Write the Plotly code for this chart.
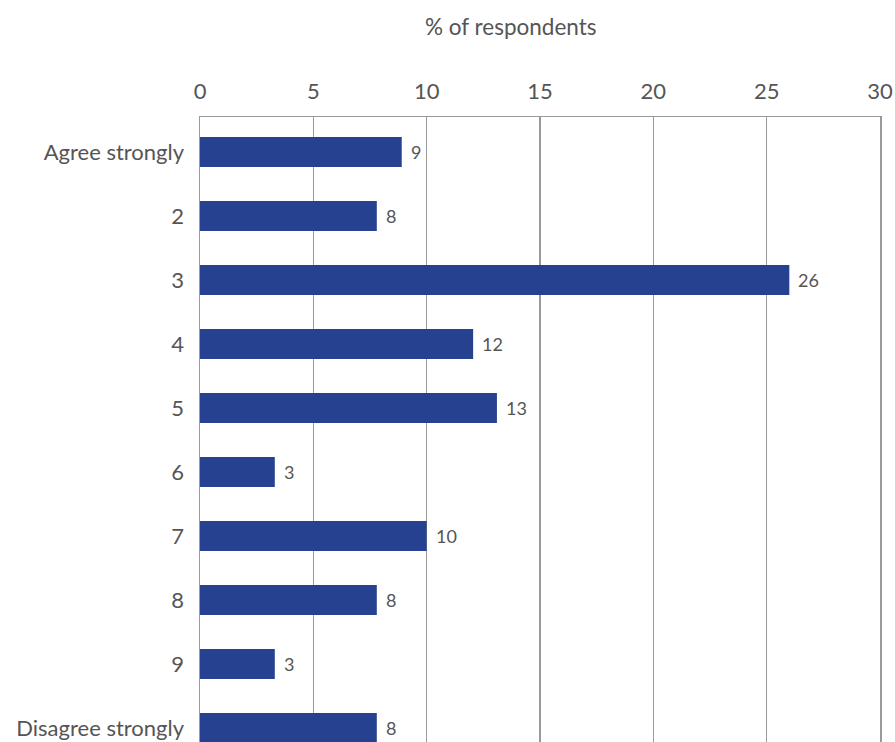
import plotly.graph_objects as go

categories = ["Agree strongly", "2", "3", "4", "5", "6", "7", "8", "9", "Disagree strongly"]
values = [8.9, 7.8, 26.0, 12.05, 13.1, 3.3, 10.0, 7.8, 3.3, 7.8]
labels = ["9", "8", "26", "12", "13", "3", "10", "8", "3", "8"]
x_ticks = [0, 5, 10, 15, 20, 25, 30]

BAR = "#25418f"
TXT = "#555555"
GRID = "#9a9a9a"
FONT = "Lato"

fig = go.Figure()
fig.add_trace(go.Bar(
    y=categories, x=values, orientation="h",
    marker=dict(color=BAR, line=dict(width=0)),
    width=0.47, hoverinfo="skip",
))
for i, (v, t) in enumerate(zip(values, labels)):
    fig.add_annotation(x=v, y=i, text=t, showarrow=False, xanchor="left",
                       xshift=7, font=dict(family=FONT, size=18, color=TXT))

fig.add_annotation(x=(511 - 200) / 680, y=1, xref="paper", yref="paper",
                   yshift=91, yanchor="middle", text="% of respondents",
                   showarrow=False, font=dict(family=FONT, size=22.5, color=TXT))

fig.update_layout(
    width=895, height=742,
    margin=dict(l=200, r=15, t=117, b=0),
    paper_bgcolor="white", plot_bgcolor="white",
    showlegend=False,
    font=dict(family=FONT, size=22, color=TXT),
    xaxis=dict(side="top", range=[0, 30], tickvals=x_ticks, showgrid=True,
               gridcolor=GRID, gridwidth=1.5, showline=True, linecolor=GRID,
               linewidth=1.5, ticks="", ticklabelstandoff=8, zeroline=False,
               ticklabeloverflow="allow",
               tickfont=dict(family=FONT, size=22, color=TXT), fixedrange=True),
    yaxis=dict(type="category", categoryorder="array", categoryarray=categories,
               range=[9.22, -0.547], showline=True, linecolor=GRID,
               linewidth=1.5, mirror=True, showgrid=False, ticks="",
               ticklabelstandoff=10,
               tickfont=dict(family=FONT, size=22, color=TXT), fixedrange=True),
)

fig.write_html(
    "out.html",
    config={"displayModeBar": False, "staticPlot": True},
    post_script="document.body.style.margin='0';document.body.style.overflow='hidden';",
)
